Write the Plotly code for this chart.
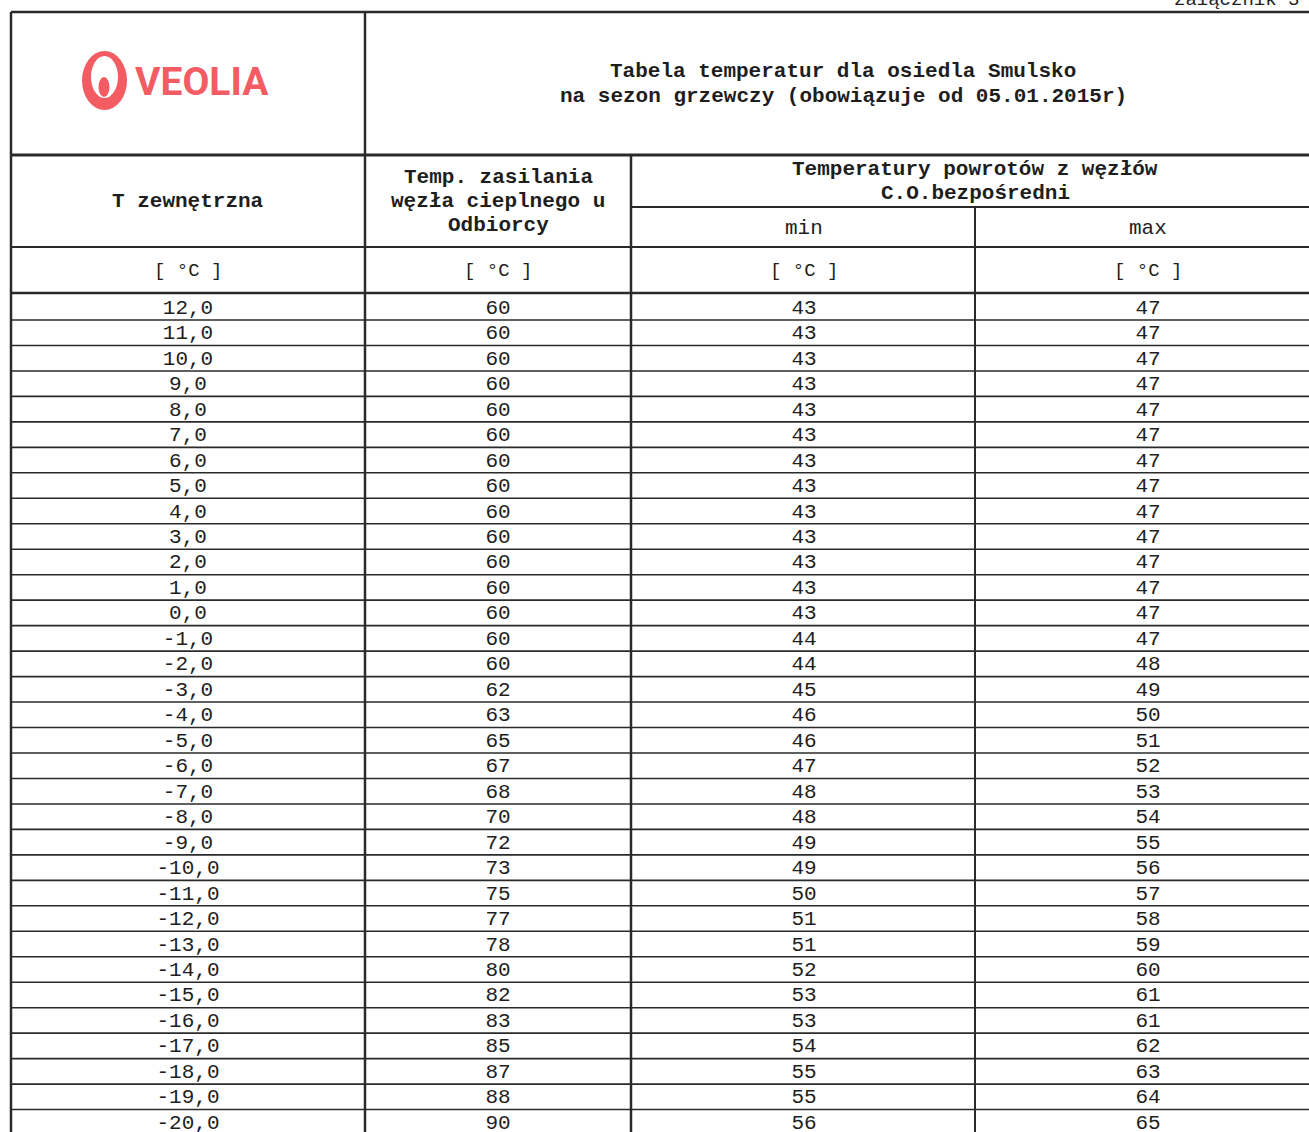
import plotly.graph_objects as go

# ---- data ----
t_ext = [12, 11, 10, 9, 8, 7, 6, 5, 4, 3, 2, 1, 0, -1, -2, -3, -4, -5, -6, -7, -8,
         -9, -10, -11, -12, -13, -14, -15, -16, -17, -18, -19, -20]
supply = [60, 60, 60, 60, 60, 60, 60, 60, 60, 60, 60, 60, 60, 60, 60, 62, 63, 65, 67, 68, 70,
          72, 73, 75, 77, 78, 80, 82, 83, 85, 87, 88, 90]
ret_min = [43, 43, 43, 43, 43, 43, 43, 43, 43, 43, 43, 43, 43, 44, 44, 45, 46, 46, 47, 48, 48,
           49, 49, 50, 51, 51, 52, 53, 53, 54, 55, 55, 56]
ret_max = [47, 47, 47, 47, 47, 47, 47, 47, 47, 47, 47, 47, 47, 47, 48, 49, 50, 51, 52, 53, 54,
           55, 56, 57, 58, 59, 60, 61, 61, 62, 63, 64, 65]
title_lines = ["Tabela temperatur dla osiedla Smulsko",
               "na sezon grzewczy (obowiązuje od 05.01.2015r)"]
unit_label = "[ °C ]"

# ---- layout geometry (page pixel coordinates) ----
W, H = 1309, 1132
X0, X1, X2, X3 = 11, 365, 631, 975
Y_TOP, Y_H1, Y_SUB, Y_H2, Y_U = 12, 155, 207, 247, 293
ROW0_LINE = 320
ROW_H = 25.47
ROW0_C = 308.5
col_centers = [188, 498, 804, 1148]

MONO = "Liberation Mono, Courier New, monospace"
INK = "#1e1e1e"
LINE = "#2a2a2a"
RED = "#f25c62"

fig = go.Figure()

# data cells
cols = [[f"{v},0" for v in t_ext], [str(v) for v in supply],
        [str(v) for v in ret_min], [str(v) for v in ret_max]]
ys = [ROW0_C + i * ROW_H for i in range(len(t_ext))]
for cx, txt in zip(col_centers, cols):
    fig.add_trace(go.Scatter(x=[cx] * len(txt), y=ys, text=txt, mode="text",
                             textposition="middle center", cliponaxis=False,
                             textfont=dict(family=MONO, size=21, color=INK),
                             hoverinfo="skip", showlegend=False))

shapes = []
def hline(y, xa, xb, w):
    shapes.append(dict(type="line", x0=xa, x1=xb, y0=y, y1=y, xref="x", yref="y",
                       line=dict(color=LINE, width=w)))
def vline(x, ya, yb, w):
    shapes.append(dict(type="line", x0=x, x1=x, y0=ya, y1=yb, xref="x", yref="y",
                       line=dict(color=LINE, width=w)))

hline(Y_TOP, X0, W + 5, 2.5)
hline(Y_H1, X0, W + 5, 3)
hline(Y_SUB, X2, W + 5, 2)
hline(Y_H2, X0, W + 5, 2)
hline(Y_U, X0, W + 5, 2.5)
for k in range(len(t_ext)):
    hline(ROW0_LINE + k * ROW_H, X0, W + 5, 1.6)
vline(X0, Y_TOP, H + 5, 2.5)
vline(X1, Y_TOP, H + 5, 2.5)
vline(X2, Y_H1, H + 5, 2.5)
vline(X3, Y_SUB, H + 5, 2)

# logo
shapes.append(dict(type="circle", x0=82, x1=127, y0=51, y1=110, xref="x", yref="y",
                   fillcolor=RED, line=dict(width=0)))
shapes.append(dict(type="circle", x0=91, x1=118, y0=56, y1=98, xref="x", yref="y",
                   fillcolor="white", line=dict(width=0)))
shapes.append(dict(type="circle", x0=98.5, x1=109.5, y0=77, y1=97, xref="x", yref="y",
                   fillcolor=RED, line=dict(width=0)))

ann = []
def text(x, y, s, size=19, bold=False, family=MONO, color=INK, xanchor="center"):
    ann.append(dict(x=x, y=y, xref="x", yref="y", text=f"<b>{s}</b>" if bold else s,
                    showarrow=False, xanchor=xanchor, yanchor="middle",
                    font=dict(family=family, size=size, color=color)))

text(133, 82, "<b>VEOLIA</b>", size=39, family="Roboto, Arial, sans-serif", color=RED,
     xanchor="left")
text(843, 71, title_lines[0], bold=True, size=21)
text(843, 96, title_lines[1], bold=True, size=21)
text(188, 201, "T zewnętrzna", bold=True, size=21)
text(498, 177, "Temp. zasilania", bold=True, size=21)
text(498, 201, "węzła cieplnego u", bold=True, size=21)
text(498, 225, "Odbiorcy", bold=True, size=21)
text(975, 169, "Temperatury powrotów z węzłów", bold=True, size=21)
text(975, 193, "C.O.bezpośredni", bold=True, size=21)
text(804, 228, "min", size=21)
text(1148, 228, "max", size=21)
for cx in col_centers:
    text(cx, 271, unit_label, size=19)
text(1172, 0, "załącznik 3", size=19, xanchor="left")

fig.update_layout(
    width=W, height=H, margin=dict(l=0, r=0, t=0, b=0),
    paper_bgcolor="white", plot_bgcolor="white",
    xaxis=dict(range=[0, W], visible=False, fixedrange=True),
    yaxis=dict(range=[H, 0], visible=False, fixedrange=True),
    shapes=shapes, annotations=ann, showlegend=False,
)
fig.write_html("out.html",
               config={"displayModeBar": False},
               post_script="document.body.style.margin='0';"
                           "document.documentElement.style.overflow='hidden';")
